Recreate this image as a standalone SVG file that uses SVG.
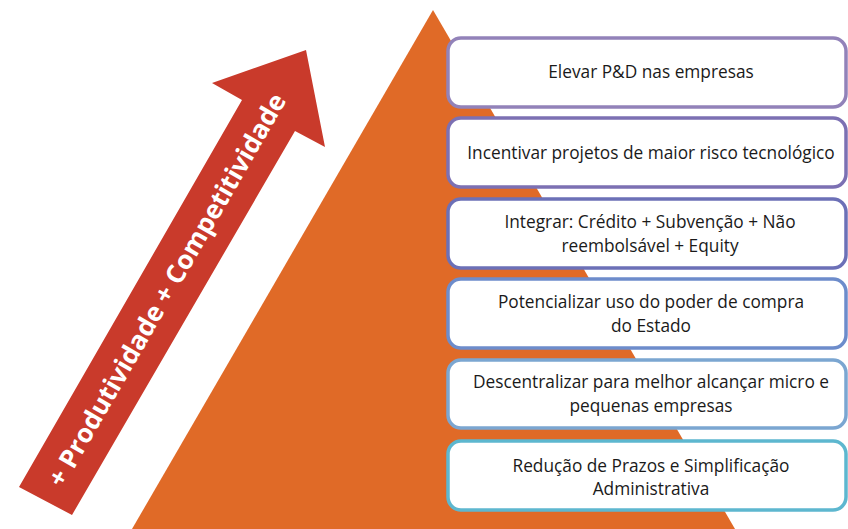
<svg xmlns="http://www.w3.org/2000/svg" width="848" height="529" viewBox="0 0 848 529">
<style>
.box{fill:#fff;stroke-width:3.5}
.t{font-family:"Open Sans","Liberation Sans",sans-serif;font-size:17.3px;fill:#1a1a1a;text-anchor:middle}
.arrowtxt{font-family:"Open Sans","Liberation Sans",sans-serif;font-size:26px;font-weight:bold;fill:#fff;text-anchor:middle}
</style>
<rect width="848" height="529" fill="#fff"/>
<g id="pyramid"><polygon points="433,10 132,529 735,529" fill="#e06a27"/></g>
<g id="arrow">
<polygon points="19,487 242,100 212,83 306,50 325,147 295,131 72,515" fill="#c93a2b"/>
<text class="arrowtxt" transform="translate(167,290) rotate(-60)" y="9">+ Produtividade + Competitividade</text>
</g>
<g id="connectors"></g>
<g id="n1"><rect class="box" x="448" y="38" width="398" height="69" rx="13" stroke="#9282b9"/><text class="t" x="651" y="78">Elevar P&amp;D nas empresas</text></g>
<g id="n2"><rect class="box" x="448" y="118" width="398" height="69" rx="13" stroke="#7c70b3"/><text class="t" x="651" y="159">Incentivar projetos de maior risco tecnológico</text></g>
<g id="n3"><rect class="box" x="448" y="199" width="398" height="69" rx="13" stroke="#6c70b7"/><text class="t" x="650" y="228">Integrar: Crédito + Subvenção + Não</text><text class="t" x="650" y="252">reembolsável + Equity</text></g>
<g id="n4"><rect class="box" x="448" y="279" width="398" height="69" rx="13" stroke="#6d8ccb"/><text class="t" x="651" y="308">Potencializar uso do poder de compra</text><text class="t" x="651" y="332">do Estado</text></g>
<g id="n5"><rect class="box" x="448" y="360" width="398" height="68" rx="13" stroke="#7ba6d1"/><text class="t" x="651" y="388">Descentralizar para melhor alcançar micro e</text><text class="t" x="651" y="412">pequenas empresas</text></g>
<g id="n6"><rect class="box" x="448" y="441" width="398" height="69" rx="13" stroke="#5db7cf"/><text class="t" x="651" y="472">Redução de Prazos e Simplificação</text><text class="t" x="651" y="495">Administrativa</text></g>
</svg>
